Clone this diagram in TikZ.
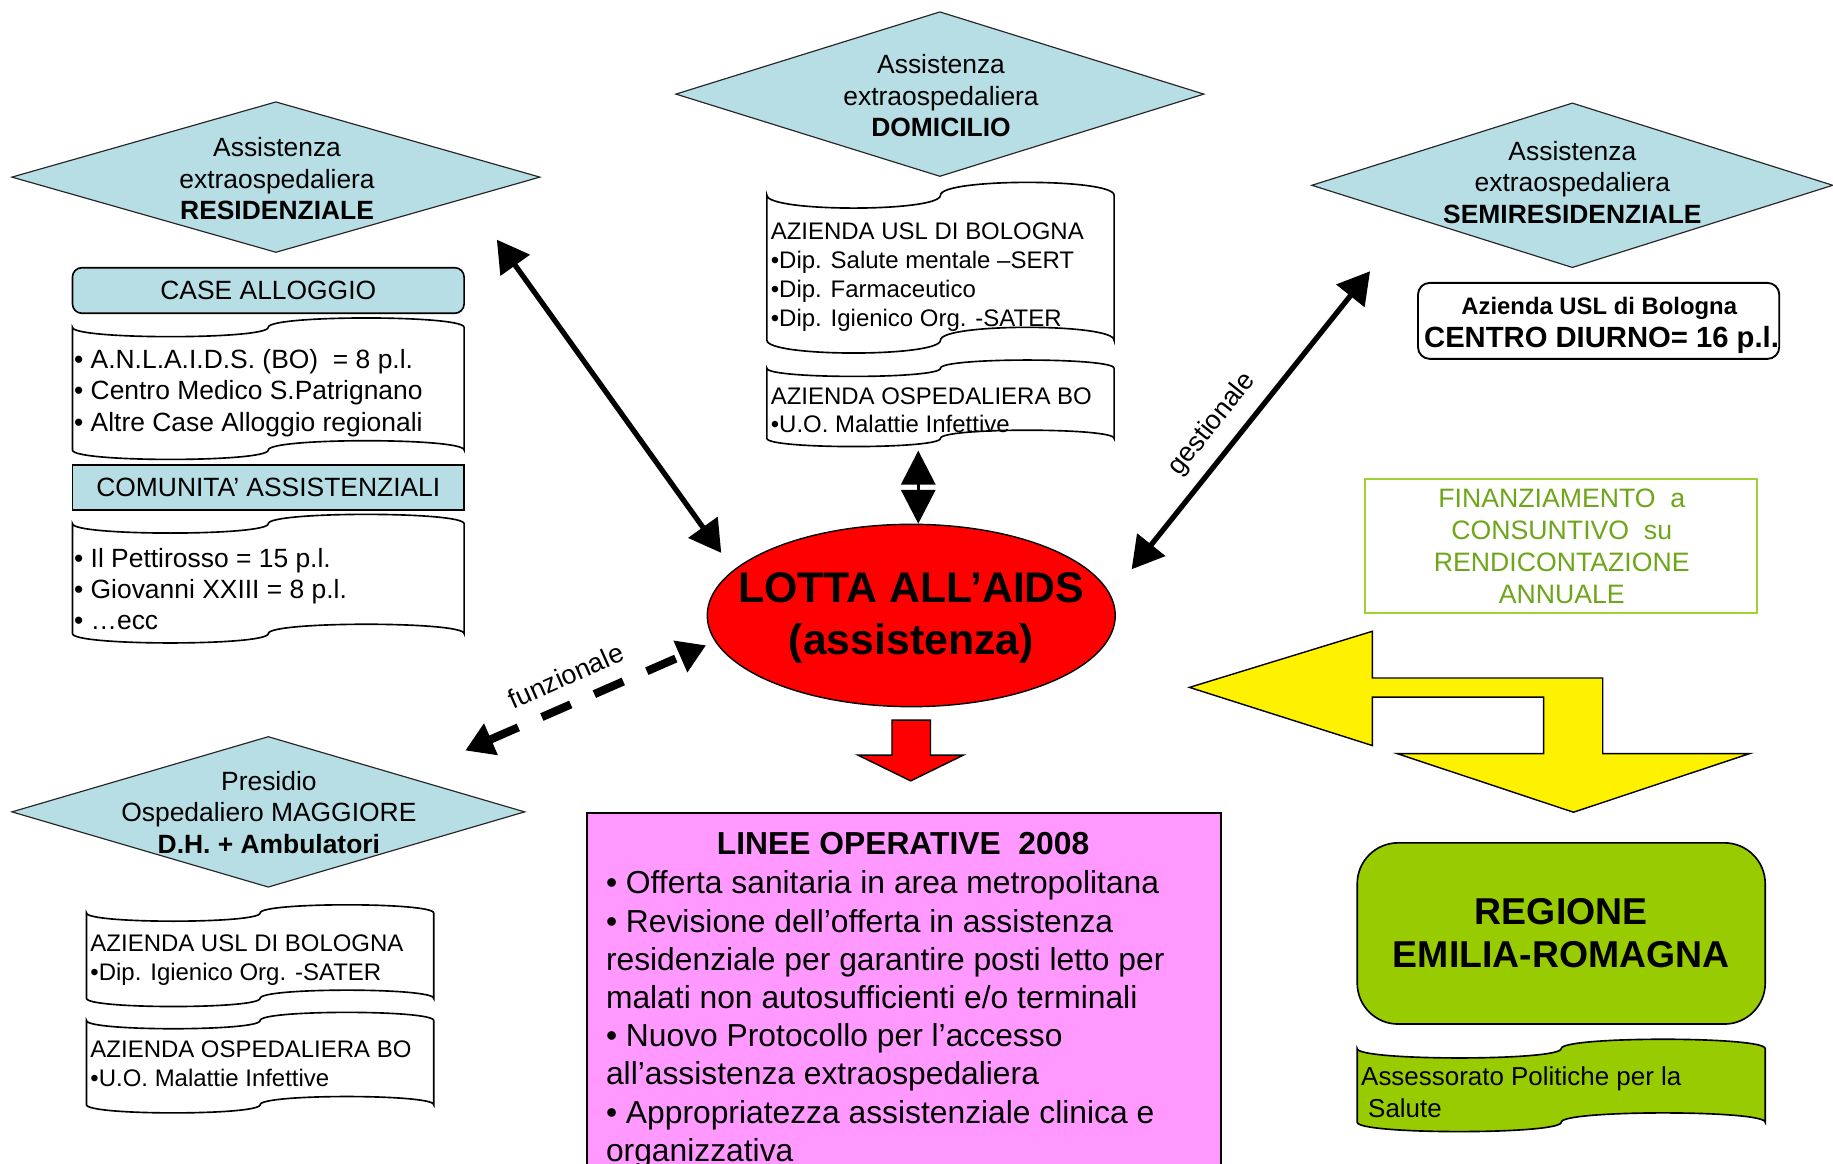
\documentclass[tikz,border=0pt]{standalone}
\usepackage{fontspec}
\setmainfont{Liberation Sans}[Ligatures={TeX,NoCommon}]
\usetikzlibrary{arrows.meta,shapes.geometric}
\definecolor{dblue}{RGB}{183,222,228}
\definecolor{pinkf}{RGB}{255,153,255}
\definecolor{greenf}{RGB}{153,204,0}
\definecolor{fintext}{RGB}{110,165,25}
\definecolor{finborder}{RGB}{160,210,50}
\newcommand\tapepath[5]{(#1,#3) .. controls (#1,{#3+1.333*#5}) and ({(#1+#2)/2},{#3+1.333*#5}) .. ({(#1+#2)/2},#3) .. controls ({(#1+#2)/2},{#3-1.333*#5}) and (#2,{#3-1.333*#5}) .. (#2,#3) -- (#2,#4) .. controls (#2,{#4-1.333*#5}) and ({(#1+#2)/2},{#4-1.333*#5}) .. ({(#1+#2)/2},#4) .. controls ({(#1+#2)/2},{#4+1.333*#5}) and (#1,{#4+1.333*#5}) .. (#1,#4) -- cycle}
\tikzset{
  diam/.style={shape=diamond, draw=black!85, line width=0.5pt, fill=dblue, inner sep=0pt},
  txt/.style={inner sep=0pt, align=center, font=\fontsize{11.3pt}{13.5pt}\selectfont},
  ltxt/.style={inner sep=0pt, align=left, anchor=west},
  tape/.style={draw=black, line width=0.7pt, fill=white},
  bigarrow/.style={line width=2.25pt, >={Triangle[length=13.5pt,width=15pt]}, <->},
  dasharrow/.style={line width=3.5pt, dash pattern=on 13.5pt off 11pt, >={Triangle[length=12pt,width=14pt]}, <->},
  lbl/.style={inner sep=0pt, font=\fontsize{11.5pt}{13.5pt}\selectfont}
}
\begin{document}
\begin{tikzpicture}[x=0.5pt, y=-0.5pt, line join=miter]
\useasboundingbox (0,0) rectangle (1568,995);
\clip (0,0) rectangle (1568,995);

% ---- diamonds
\node[diam, minimum width=226pt, minimum height=64.5pt] (res) at (236,151.5) {};
\node[txt] (rest) at (237,153) {Assistenza\\extraospedaliera\\\textbf{RESIDENZIALE}};
\node[diam, minimum width=226pt, minimum height=70.5pt] (dom) at (804,80.5) {};
\node[txt] (domt) at (805,82) {Assistenza\\extraospedaliera\\\textbf{DOMICILIO}};
\node[diam, minimum width=223pt, minimum height=70.5pt] (semi) at (1345,158.5) {};
\node[txt] (semit) at (1345,156) {Assistenza\\extraospedaliera\\\textbf{SEMIRESIDENZIALE}};
\node[diam, minimum width=219.5pt, minimum height=64.5pt] (pres) at (229.5,694.5) {};
\node[txt] (prest) at (230,695) {Presidio\\Ospedaliero MAGGIORE\\\textbf{D.H. + Ambulatori}};

% ---- left column
\node[draw, line width=0.7pt, fill=dblue, rounded corners=4pt, minimum width=167.5pt, minimum height=19.5pt, inner sep=0pt, font=\fontsize{11.3pt}{13.5pt}\selectfont] (case) at (229.5,248.5) {CASE ALLOGGIO};
\draw[tape] \tapepath{62}{397}{280}{385}{8};
\node[ltxt, font=\fontsize{11.3pt}{13.5pt}\selectfont] (d1t) at (63,336) {• A.N.L.A.I.D.S. (BO)~ = 8 p.l.\\• Centro Medico S.Patrignano\\• Altre Case Alloggio regionali};
\node[draw, line width=0.7pt, fill=dblue, minimum width=167.5pt, minimum height=19pt, inner sep=0pt, font=\fontsize{11.3pt}{13.5pt}\selectfont] (com) at (229.5,417) {COMUNITA’ ASSISTENZIALI};
\draw[tape] \tapepath{62}{397}{448}{542}{8};
\node[ltxt, font=\fontsize{11.3pt}{13.3pt}\selectfont] (d2t) at (63,504) {• Il Pettirosso = 15 p.l.\\• Giovanni XXIII = 8 p.l.\\• …ecc};

% ---- domicilio boxes
\draw[tape] \tapepath{656}{953}{167}{291}{11};
\node[ltxt, font=\fontsize{10.25pt}{12.35pt}\selectfont] (d3t) at (659,237) {AZIENDA USL DI BOLOGNA\\•Dip. Salute mentale –SERT\\•Dip. Farmaceutico\\•Dip. Igienico Org. -SATER};
\draw[tape] \tapepath{656}{953}{315}{375}{7};
\node[ltxt, font=\fontsize{10.25pt}{12.25pt}\selectfont] (d4t) at (659,351) {AZIENDA OSPEDALIERA BO\\•U.O. Malattie Infettive};

% ---- presidio boxes
\draw[tape] \tapepath{74}{371}{781}{854}{7};
\node[ltxt, font=\fontsize{10.25pt}{12.5pt}\selectfont] (d5t) at (77,821) {AZIENDA USL DI BOLOGNA\\•Dip. Igienico Org. -SATER};
\draw[tape] \tapepath{74}{371}{873}{945}{7};
\node[ltxt, font=\fontsize{10.25pt}{12.25pt}\selectfont] (d6t) at (77,910) {AZIENDA OSPEDALIERA BO\\•U.O. Malattie Infettive};

% ---- semiresidenziale box
\node[draw, line width=0.8pt, rounded corners=5pt, minimum width=154.5pt, minimum height=32.5pt, inner sep=0pt] (cd) at (1367.5,274.5) {};
\node[inner sep=0pt, font=\bfseries\fontsize{10.2pt}{12pt}\selectfont] (cd1) at (1368,263.5) {Azienda USL di Bologna};
\node[inner sep=0pt, font=\bfseries\fontsize{12.5pt}{14pt}\selectfont] (cd2) at (1370,291) {CENTRO DIURNO= 16 p.l.};

% ---- finanziamento
\node[draw=finborder, line width=0.8pt, minimum width=167.5pt, minimum height=57pt, inner sep=0pt] (fin) at (1335.5,467) {};
\node[txt, text=fintext, font=\fontsize{11.4pt}{13.6pt}\selectfont] (fint) at (1336,467.5) {FINANZIAMENTO~ a\\CONSUNTIVO~ su\\RENDICONTAZIONE\\ANNUALE};

% ---- yellow arrow
\draw[fill=yellow, line width=0.6pt] (1017.5,588) -- (1174,540) -- (1174,580) -- (1371,580) -- (1371,644.6) -- (1496.7,644.6) -- (1346,694.8) -- (1195,644.6) -- (1320.5,644.6) -- (1320.5,596.3) -- (1174,596.3) -- (1174,637.8) -- cycle;

% ---- regione
\node[draw, line width=0.7pt, fill=greenf, rounded corners=17.5pt, minimum width=174.5pt, minimum height=77.5pt, inner sep=0pt] (reg) at (1335.5,798.5) {};
\node[txt, font=\bfseries\fontsize{16pt}{18.5pt}\selectfont] (regt) at (1335.5,798.5) {REGIONE\\EMILIA-ROMAGNA};
\draw[tape, fill=greenf] \tapepath{1161}{1510}{897}{960}{8};
\node[ltxt, font=\fontsize{11.1pt}{13.5pt}\selectfont] (d7t) at (1164,934.5) {Assessorato Politiche per la\\\hspace*{3pt}Salute};

% ---- central ellipse
\node[ellipse, draw, line width=0.6pt, fill=red, minimum width=174.5pt, minimum height=78pt, inner sep=0pt] (lotta) at (779.5,526.5) {};
\node[txt, font=\bfseries\fontsize{18.3pt}{22.5pt}\selectfont] (lottat) at (779.5,528.5) {LOTTA ALL’AIDS\\(assistenza)};

% ---- red block arrow
\draw[fill=red, line width=0.6pt] (763,616) -- (796,616) -- (796,646) -- (824,646) -- (779,668) -- (734,646) -- (763,646) -- cycle;

% ---- pink box
\node[draw, line width=0.8pt, fill=pinkf, anchor=north west, minimum width=271.5pt, minimum height=157.5pt, inner sep=0pt] (linee) at (501,695) {};
\node[inner sep=0pt, font=\bfseries\fontsize{13.6pt}{16.2pt}\selectfont] (lineet) at (772.5,722) {LINEE OPERATIVE~ 2008};
\node[ltxt, font=\fontsize{13.6pt}{16.35pt}\selectfont] (lineeb) at (518,872) {• Offerta sanitaria in area metropolitana\\• Revisione dell’offerta in assistenza\\residenziale per garantire posti letto per\\malati non autosufficienti e/o terminali\\• Nuovo Protocollo per l’accesso\\all’assistenza extraospedaliera\\• Appropriatezza assistenziale clinica e\\organizzativa};

% ---- connectors
\coordinate (aA1) at (425,205); \coordinate (aA2) at (617,473);
\draw[bigarrow] (aA1) -- (aA2);
\coordinate (aB1) at (785.5,385.5); \coordinate (aB2) at (785.5,448);
\draw[line width=1.5pt, >={Triangle[length=14.5pt,width=14.5pt]}, <->] (aB1) -- (aB2);
\coordinate (aC1) at (1172,232); \coordinate (aC2) at (968,487);
\draw[bigarrow] (aC1) -- (aC2);
\coordinate (aD1) at (398,642); \coordinate (aD2) at (604,552);
\draw[dasharrow] (aD1) -- (aD2);
\node[lbl, rotate=51.3] (gest) at (1037,363) {gestionale};
\node[lbl, rotate=24] (funz) at (484,578) {funzionale};
\end{tikzpicture}
\end{document}
